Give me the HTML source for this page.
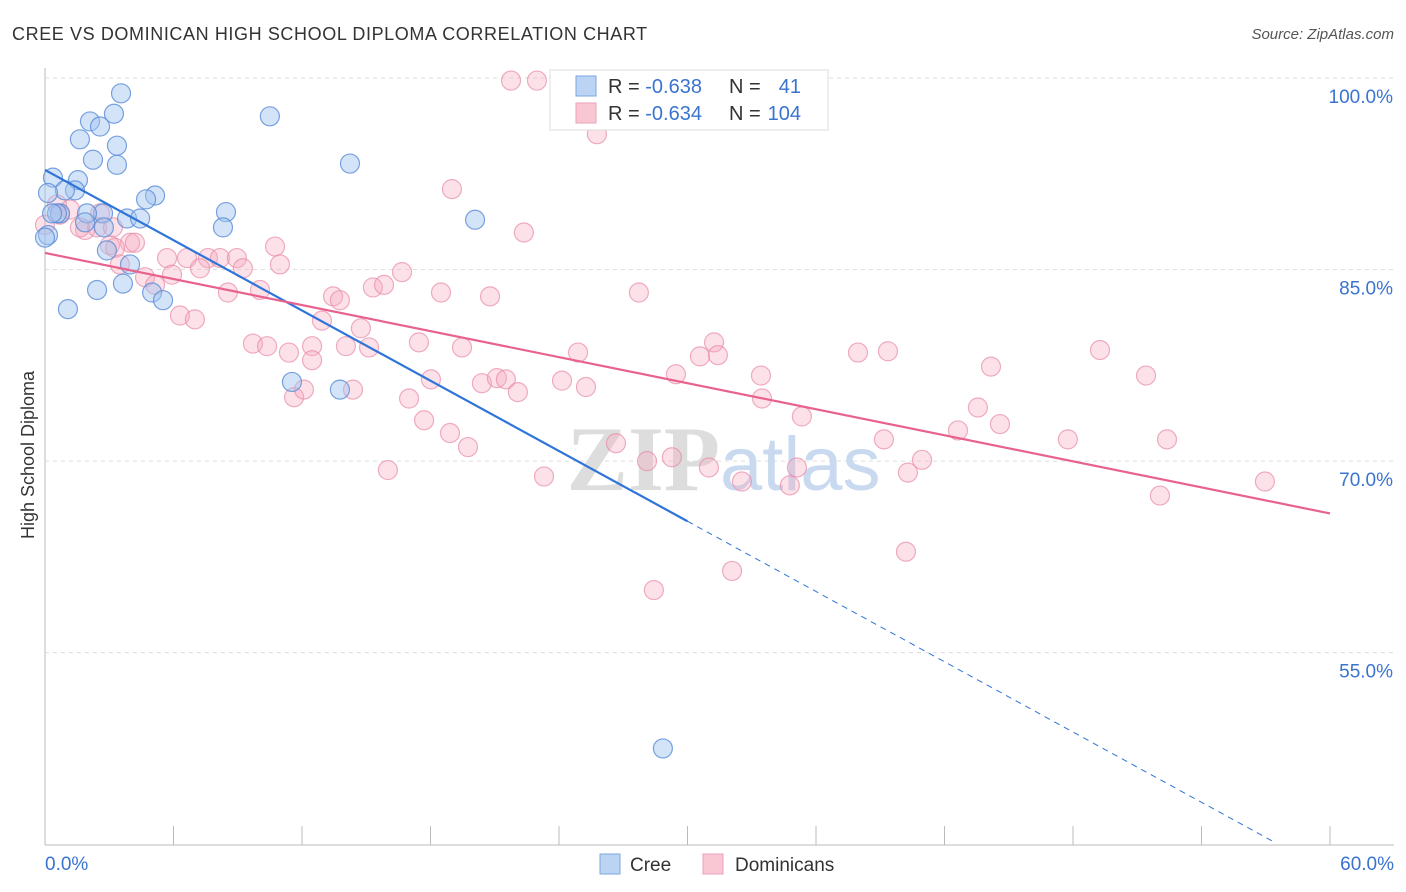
<!DOCTYPE html>
<html><head><meta charset="utf-8"><style>
body{margin:0;background:#fff;font-family:"Liberation Sans",sans-serif}
#c{position:absolute;left:0;top:0}
</style></head><body>
<svg id="c" width="1406" height="892">
<text x="12" y="40" font-size="18" fill="#333" letter-spacing="0.6">CREE VS DOMINICAN HIGH SCHOOL DIPLOMA CORRELATION CHART</text>
<text x="1394" y="39" font-size="15" fill="#555" font-style="italic" text-anchor="end">Source: ZipAtlas.com</text>
<g id="grid"></g>
<text x="720" y="490" font-size="92" font-family="Liberation Serif,serif" fill="#ddd" text-anchor="end" font-weight="bold">ZIP</text>
<text x="720" y="490" font-size="76" fill="#c9daf0">atlas</text>
<g id="pts"></g>
<g id="lines"></g>
<text transform="translate(34,455) rotate(-90)" font-size="18" fill="#333" text-anchor="middle">High School Diploma</text>
<g>
<rect x="550" y="70" width="278" height="60" fill="#fff" stroke="#ddd"/>
<rect x="576" y="76" width="20" height="20" fill="#bcd4f4" stroke="#7aa6e0"/>
<rect x="576" y="103" width="20" height="20" fill="#f9c6d4" stroke="#eaa2b8"/>
<text x="608" y="93" font-size="20" fill="#333">R = <tspan fill="#3a74d0">-0.638</tspan></text>
<text x="729" y="93" font-size="20" fill="#333">N =</text>
<text x="801" y="93" font-size="20" fill="#3a74d0" text-anchor="end">41</text>
<text x="608" y="120" font-size="20" fill="#333">R = <tspan fill="#3a74d0">-0.634</tspan></text>
<text x="729" y="120" font-size="20" fill="#333">N =</text>
<text x="801" y="120" font-size="20" fill="#3a74d0" text-anchor="end">104</text>
</g>
<g><rect x="600" y="854" width="20" height="20" fill="#bcd4f4" stroke="#7aa6e0"/><text x="630" y="871" font-size="19" fill="#333">Cree</text></g>
<g><rect x="703" y="854" width="20" height="20" fill="#f9c6d4" stroke="#eaa2b8"/><text x="735" y="871" font-size="19" fill="#333">Dominicans</text></g>
</svg>
<script>
const yTicks=[100,85,70,55];
const yTickLabels=["100.0%","85.0%","70.0%","55.0%"];
const xTicks=[0,6,12,18,24,30,36,42,48,54,60];
const creeX=[3.55,3.22,2.10,2.57,10.5,1.63,3.36,2.24,3.36,14.24,1.54,0.37,1.40,0.93,0.14,5.14,4.72,8.45,2.71,1.96,0.70,3.83,4.44,20.08,8.31,2.75,0.14,2.89,3.97,3.64,2.43,5.00,5.51,1.07,11.53,13.77,28.85,0.56,0.33,0.0,1.87];
const creeY=[98.8,97.2,96.6,96.2,97.0,95.2,94.7,93.6,93.2,93.3,92.0,92.2,91.2,91.2,91.0,90.8,90.5,89.5,89.4,89.4,89.4,89.0,89.0,88.9,88.3,88.3,87.7,86.5,85.4,83.9,83.4,83.2,82.6,81.9,76.2,75.6,47.5,89.4,89.4,87.5,88.7];
const domX=[21.76,22.97,25.77,19.00,22.36,0.56,1.17,2.57,0.0,1.87,3.03,3.97,3.27,4.20,2.43,1.63,10.74,5.70,6.63,7.61,8.17,8.96,3.50,10.97,7.24,4.67,5.93,9.24,16.67,5.14,8.54,10.04,13.45,13.77,15.31,15.83,18.49,20.78,27.73,6.30,7.00,12.93,14.75,9.71,10.37,12.47,11.39,12.47,14.05,15.13,17.46,19.47,24.89,31.24,31.42,30.58,37.96,39.36,49.26,44.17,51.41,11.63,12.09,14.38,18.02,20.40,21.10,21.52,22.08,24.14,25.26,29.46,33.43,17.00,33.48,43.56,35.34,17.70,18.91,19.75,44.59,42.63,39.17,47.76,52.39,26.66,28.11,29.27,16.01,23.30,31.00,35.11,40.95,40.29,32.54,34.78,56.96,52.06,40.20,32.08,28.43,3.17,0.70];
const domY=[99.8,99.8,95.6,91.3,87.9,90.1,89.7,89.4,88.5,88.1,86.9,87.1,86.7,87.1,88.3,88.3,86.8,85.9,85.9,85.9,85.9,85.9,85.4,85.4,85.1,84.4,84.6,85.1,84.8,83.8,83.2,83.4,82.9,82.6,83.6,83.8,83.2,82.9,83.2,81.4,81.1,81.0,80.4,79.2,79.0,79.0,78.5,77.9,79.0,78.9,79.3,78.9,78.5,79.3,78.3,78.2,78.5,78.6,78.7,77.4,76.7,75.0,75.6,75.6,76.4,76.1,76.5,76.4,75.4,76.3,75.8,76.8,76.7,74.9,74.9,74.2,73.5,73.2,72.2,71.1,72.9,72.4,71.7,71.7,71.7,71.4,70.0,70.3,69.3,68.8,69.5,69.5,70.1,69.1,68.4,68.1,68.4,67.3,62.9,61.4,59.9,88.3,89.3];
const creeLine=[92.8,-0.917];
const domLine=[86.3,-0.34];
const NS="http://www.w3.org/2000/svg";
const X=v=>45+v*(1285/60);
const Y=v=>78+(100-v)*12.77;
function mk(tag,attrs,parent){const e=document.createElementNS(NS,tag);for(const k in attrs)e.setAttribute(k,attrs[k]);parent.appendChild(e);return e;}
const grid=document.getElementById('grid');
let ax=mk('line',{x1:45,y1:68,x2:45,y2:845,stroke:'#bbb'},grid);


let bx=mk('line',{x1:45,y1:845,x2:1394,y2:845,stroke:'#bbb'},grid);


yTicks.forEach((t,i)=>{
 const g=mk('line',{x1:45,y1:Y(t),x2:1394,y2:Y(t),stroke:'#ddd','stroke-dasharray':'4,4'},grid);
 
 
 const tx=mk('text',{x:1393,y:Y(t)+25,'font-size':19,fill:'#3a74d0','text-anchor':'end'},grid);
 tx.textContent=yTickLabels[i];
 
 
});
xTicks.forEach(t=>{
 const l=mk('line',{x1:X(t),y1:826,x2:X(t),y2:845,stroke:'#bbb'},grid);
 
 
});
const xl0=mk('text',{x:45,y:870,'font-size':19,fill:'#3a74d0'},grid);xl0.textContent='0.0%';


const xl1=mk('text',{x:1394,y:870,'font-size':19,fill:'#3a74d0','text-anchor':'end'},grid);xl1.textContent='60.0%';


const pts=document.getElementById('pts');
domX.forEach((x,i)=>{
 const c=mk('circle',{cx:X(x),cy:Y(domY[i]),r:9.5,fill:'rgba(246,170,192,0.35)',stroke:'rgba(232,140,168,0.7)','stroke-width':1.2},pts);
 
 
});
creeX.forEach((x,i)=>{
 const c=mk('circle',{cx:X(x),cy:Y(creeY[i]),r:9.5,fill:'rgba(160,196,240,0.45)',stroke:'rgba(90,140,215,0.8)','stroke-width':1.2},pts);
 
 
});
const lines=document.getElementById('lines');
const f=(L,x)=>L[0]+L[1]*x;
let l1=mk('line',{x1:X(0),y1:Y(f(creeLine,0)),x2:X(30),y2:Y(f(creeLine,30)),stroke:'#2f74d8','stroke-width':2.2},lines);


let l2=mk('line',{x1:X(30),y1:Y(f(creeLine,30)),x2:X(57.4),y2:Y(f(creeLine,57.4)),stroke:'#2f74d8','stroke-width':1,'stroke-dasharray':'6,5'},lines);


let l3=mk('line',{x1:X(0),y1:Y(f(domLine,0)),x2:X(60),y2:Y(f(domLine,60)),stroke:'#e8628e','stroke-width':2.2},lines);


</script>
</body></html>
